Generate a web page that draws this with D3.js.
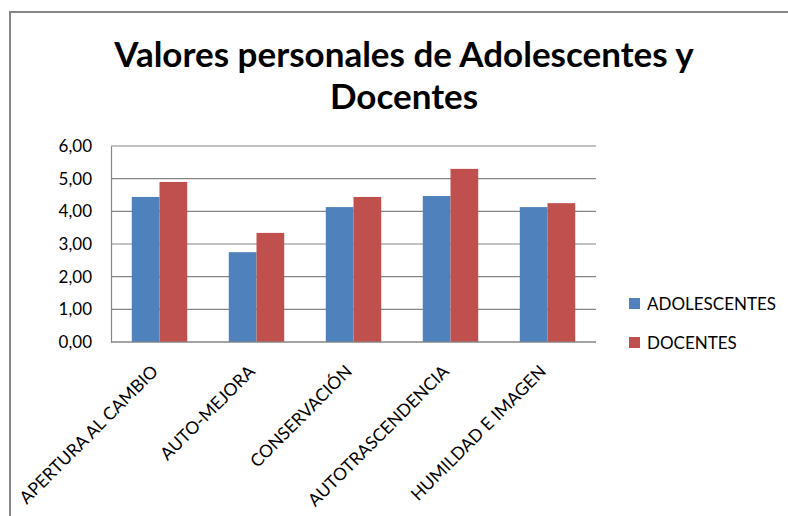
<!DOCTYPE html>
<head>
  <meta charset="utf-8">
  <script src="https://d3js.org/d3.v7.min.js"></script>
  <style>
    body { margin:0; background:#fff; }
    svg { display:block; }
    text { font-family: Lato, "Open Sans", sans-serif; fill:#000; }
  </style>
</head>
<body>
  <svg width="788" height="516"></svg>
  <script>
    var categories = ['APERTURA AL CAMBIO', 'AUTO-MEJORA', 'CONSERVACIÓN', 'AUTOTRASCENDENCIA', 'HUMILDAD E IMAGEN'];
    var seriesNames = ['ADOLESCENTES', 'DOCENTES'];
    var adolescentes = [4.44, 2.75, 4.13, 4.47, 4.13];
    var docentes = [4.90, 3.34, 4.44, 5.30, 4.25];
    var yTicks = [0, 1, 2, 3, 4, 5, 6];
    var colors = ['#4f81bd', '#c0504d'];

    var margin = {top: 146, left: 111, right: 192, bottom: 174};
    var width = 788, height = 516;

    var svg = d3.select('svg');

    // outer chart border
    svg.append('rect')
      .attr('x', 10).attr('y', 12)
      .attr('width', 800).attr('height', 600)
      .attr('fill', 'none')
      .attr('stroke', '#868686')
      .attr('stroke-width', 2);

    // title
    var title = svg.append('text')
      .attr('text-anchor', 'middle')
      .style('font-size', '35px')
      .style('font-weight', 'bold');
    title.append('tspan').attr('x', 404).attr('y', 67).text('Valores personales de Adolescentes y');
    title.append('tspan').attr('x', 404).attr('y', 109).text('Docentes');

    var x0 = d3.scaleBand()
      .domain(categories)
      .range([margin.left, width - margin.right]);

    var x1 = d3.scaleBand()
      .domain(seriesNames)
      .range([0, x0.bandwidth()])
      .paddingOuter(0.75);

    var y = d3.scaleLinear()
      .domain([0, 6])
      .range([height - margin.bottom, margin.top]);

    // gridlines
    svg.append('g')
      .selectAll('line')
      .data(yTicks)
      .enter().append('line')
      .attr('x1', margin.left)
      .attr('x2', width - margin.right)
      .attr('y1', d => y(d))
      .attr('y2', d => y(d))
      .attr('stroke', '#868686')
      .attr('stroke-width', 1.2);

    var rows = categories.map((c, i) => ({cat: c, vals: [adolescentes[i], docentes[i]]}));

    svg.append('g')
      .selectAll('g')
      .data(rows)
      .enter().append('g')
      .attr('transform', d => 'translate(' + x0(d.cat) + ',0)')
      .selectAll('rect')
      .data(d => d.vals.map((v, j) => ({s: seriesNames[j], v: v, c: colors[j]})))
      .enter().append('rect')
      .attr('x', d => x1(d.s))
      .attr('width', x1.bandwidth())
      .attr('y', d => y(d.v))
      .attr('height', d => y(0) - y(d.v))
      .attr('fill', d => d.c);

    // y axis
    var yAxis = d3.axisLeft(y)
      .tickValues(yTicks)
      .tickSize(0)
      .tickPadding(19)
      .tickFormat(d => d3.format('.2f')(d).replace('.', ','));

    var gy = svg.append('g')
      .attr('transform', 'translate(' + margin.left + ',0)')
      .call(yAxis);
    gy.select('.domain').attr('stroke', '#868686').attr('stroke-width', 1.2);
    gy.selectAll('text').style('font-size', '17px').style('font-family', 'Lato, sans-serif');

    // x axis line
    svg.append('line')
      .attr('x1', margin.left).attr('x2', width - margin.right)
      .attr('y1', y(0)).attr('y2', y(0))
      .attr('stroke', '#868686').attr('stroke-width', 1.2);

    // category labels rotated
    svg.append('g')
      .selectAll('text')
      .data(categories)
      .enter().append('text')
      .attr('text-anchor', 'end')
      .attr('transform', d => 'translate(' + (x0(d) + x0.bandwidth() / 2 - 9) + ',' + (y(0) + 22) + ') rotate(-45)')
      .attr('dy', '0.7em')
      .style('font-size', '17.5px')
      .text(d => d);

    // legend
    var legend = svg.append('g')
      .selectAll('g')
      .data(seriesNames)
      .enter().append('g')
      .attr('transform', (d, i) => 'translate(629,' + (304 + i * 39) + ')');
    legend.append('rect')
      .attr('x', 0).attr('y', -6)
      .attr('width', 11).attr('height', 11)
      .attr('fill', (d, i) => colors[i]);
    legend.append('text')
      .attr('x', 18).attr('y', 0)
      .attr('dy', '0.35em')
      .style('font-size', '17px')
      .text(d => d);
  </script>
</body>
